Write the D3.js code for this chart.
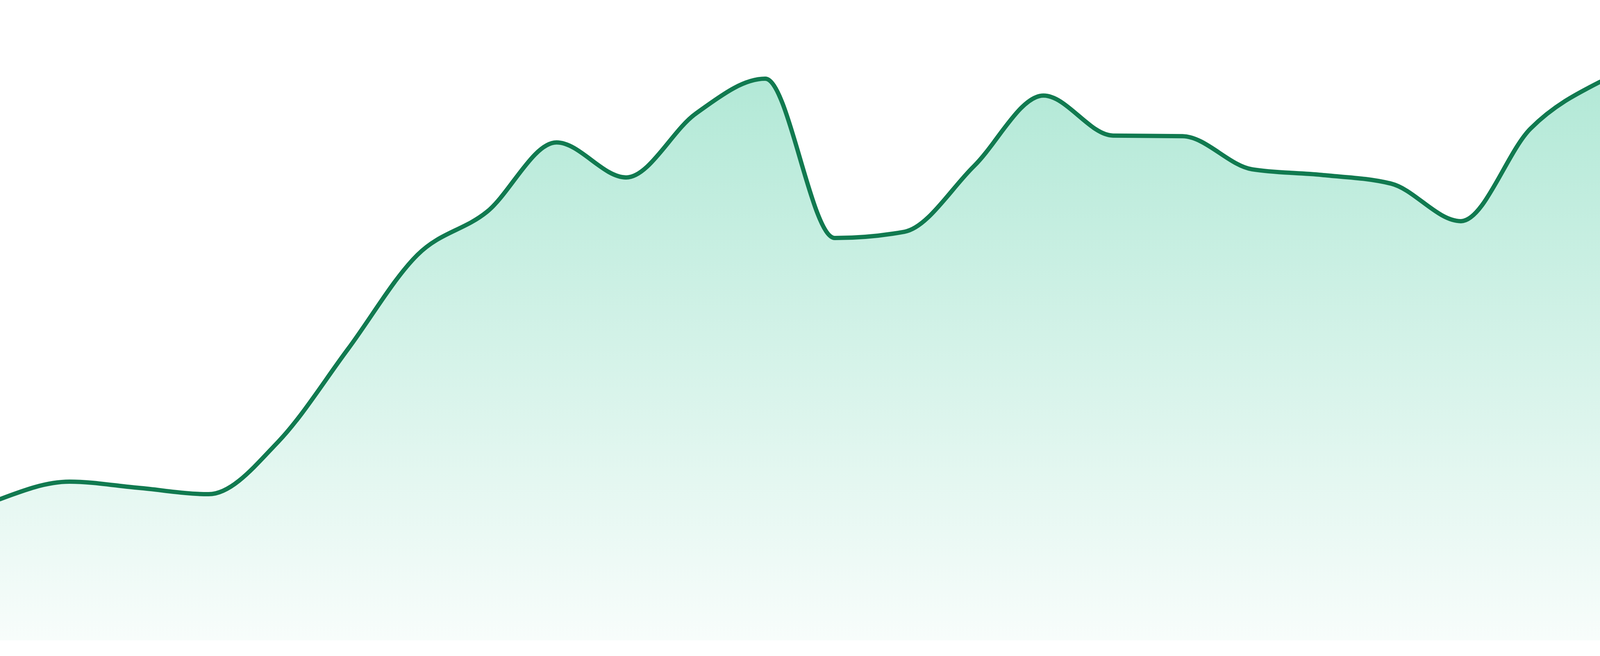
<!DOCTYPE html>
<html>
<head>
<meta charset="utf-8">
<script src="https://cdn.jsdelivr.net/npm/d3@7"></script>
<style>
  html, body { margin: 0; padding: 0; background: #fff; overflow: hidden; width: 100%; height: 100%; }
  svg { display: block; }
</style>
</head>
<body>
<script>
// data
var steps = [0, 1, 2, 3, 4, 5, 6, 7, 8, 9, 10, 11, 12, 13, 14, 15, 16, 17, 18, 19, 20, 21, 22, 23];
var values = [22.6, 25.4, 24.4, 23.4, 31.8, 46.6, 61.7, 68.6, 79.7, 74.1, 84.3, 89.9,
              64.4, 65.4, 75.9, 87.2, 80.8, 80.7, 75.4, 74.5, 73.1, 67.1, 81.9, 89.4];

// fill the whole window (designed for 4800x1680)
var width = window.innerWidth || 4800,
    height = window.innerHeight || 1680,
    k = height / 1680,
    baseline = 1640 * k;

var data = steps.map(function(s, i) { return {step: s, value: values[i]}; });

var svg = d3.select("body").append("svg")
    .attr("width", width)
    .attr("height", height);

var x = d3.scaleLinear()
    .domain([0, 23])
    .range([0, width]);

var y = d3.scaleLinear()
    .domain([0, 100])
    .range([baseline, 40 * k]);

// gradient under the line
var grad = svg.append("defs").append("linearGradient")
    .attr("id", "fillGrad")
    .attr("x1", 0).attr("y1", 0)
    .attr("x2", 0).attr("y2", 1);
grad.append("stop").attr("offset", "0%")
    .attr("stop-color", "#10b981").attr("stop-opacity", 0.32);
grad.append("stop").attr("offset", "100%")
    .attr("stop-color", "#10b981").attr("stop-opacity", 0.03);

var area = d3.area()
    .x(function(d) { return x(d.step); })
    .y0(baseline)
    .y1(function(d) { return y(d.value); })
    .curve(d3.curveMonotoneX);

var line = d3.line()
    .x(function(d) { return x(d.step); })
    .y(function(d) { return y(d.value); })
    .curve(d3.curveMonotoneX);

svg.append("path")
    .datum(data)
    .attr("d", area)
    .attr("fill", "url(#fillGrad)");

svg.append("path")
    .datum(data)
    .attr("d", line)
    .attr("fill", "none")
    .attr("stroke", "#117a50")
    .attr("stroke-width", 11 * k)
    .attr("stroke-linejoin", "round")
    .attr("stroke-linecap", "round");
</script>
</body>
</html>
